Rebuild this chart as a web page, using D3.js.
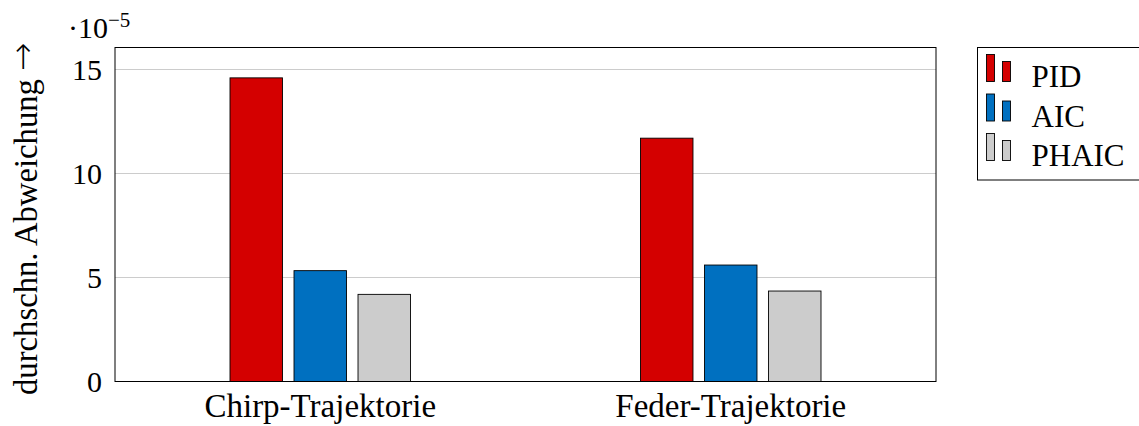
<!DOCTYPE html>
<html>
<head>
<meta charset="utf-8">
<script src="https://cdn.jsdelivr.net/npm/d3@7"></script>
<style>
  body { margin: 0; background: #fff; }
  text { font-family: "Liberation Serif", "DejaVu Serif", serif; fill: #000; }
</style>
</head>
<body>
<div id="chart"></div>
<script>
// data (values in units of 1e-5)
const categories = ["Chirp-Trajektorie", "Feder-Trajektorie"];
const seriesNames = ["PID", "AIC", "PHAIC"];
const seriesColors = ["#d40000", "#0070c0", "#cccccc"];
const pidValues = [14.6, 11.7];
const aicValues = [5.33, 5.6];
const phaicValues = [4.19, 4.35];
const yTicks = [0, 5, 10, 15];

const seriesValues = [pidValues, aicValues, phaicValues];

const W = 1139, H = 426;
const margin = {top: 47.5, right: 203, bottom: 44.5, left: 115};
const width = W - margin.left - margin.right,
      height = H - margin.top - margin.bottom;

const svg = d3.select("#chart").append("svg")
    .attr("width", W).attr("height", H);

const g = svg.append("g")
    .attr("transform", "translate(" + margin.left + "," + margin.top + ")");

// scales
const x0 = d3.scalePoint().domain(categories).range([0, width]).padding(0.5);
const x1 = d3.scaleBand().domain(seriesNames).range([-90.25, 90.25]).paddingInner(0.18);
const y = d3.scaleLinear().domain([0, 16.06]).range([height, 0]);

// grid lines
g.selectAll(".grid")
    .data(yTicks.filter(d => d > 0))
    .enter().append("line")
    .attr("x1", 0).attr("x2", width)
    .attr("y1", d => y(d)).attr("y2", d => y(d))
    .attr("stroke", "#cccccc").attr("stroke-width", 1)
    .attr("shape-rendering", "crispEdges");

// bars
categories.forEach(function(cat, ci) {
    g.selectAll(".bar-" + ci)
        .data(seriesNames)
        .enter().append("rect")
        .attr("x", s => x0(cat) + x1(s))
        .attr("y", (s, si) => y(seriesValues[si][ci]))
        .attr("width", x1.bandwidth())
        .attr("height", (s, si) => height - y(seriesValues[si][ci]))
        .attr("fill", (s, si) => seriesColors[si])
        .attr("stroke", "#000")
        .attr("stroke-width", 0.9);
});

// frame
g.append("rect")
    .attr("x", 0).attr("y", 0).attr("width", width).attr("height", height)
    .attr("fill", "none").attr("stroke", "#000").attr("stroke-width", 1);

// y tick labels
g.selectAll(".ytick")
    .data(yTicks)
    .enter().append("text")
    .attr("x", -13).attr("y", d => y(d))
    .attr("dy", "0.34em")
    .attr("text-anchor", "end")
    .style("font-size", "30px")
    .text(d => d);

// exponent label
const expo = svg.append("text")
    .attr("x", 68).attr("y", 38)
    .style("font-size", "30px");
expo.append("tspan").text("\u00b710");
expo.append("tspan").attr("dy", -11).style("font-size", "21px").text("\u22125");

// x labels
g.selectAll(".xlabel")
    .data(categories)
    .enter().append("text")
    .attr("x", d => x0(d)).attr("y", height + 35)
    .attr("text-anchor", "middle")
    .style("font-size", "33px")
    .text(d => d);

// y axis title
const ytitle = svg.append("text")
    .attr("transform", "translate(37,395) rotate(-90)")
    .attr("text-anchor", "start")
    .style("font-size", "32.7px");
ytitle.append("tspan").text("durchschn. Abweichung ");
ytitle.append("tspan").attr("dx", 0).attr("dy", -3)
    .style("font-family", "'DejaVu Sans'")
    .style("font-weight", 200)
    .style("font-size", "34px").text("\u2192");

// legend
const lg = svg.append("g").attr("transform", "translate(977.5,47.5)");
lg.append("rect")
    .attr("x", 0).attr("y", 0).attr("width", 165).attr("height", 132.5)
    .attr("fill", "#fff").attr("stroke", "#000").attr("stroke-width", 1);

const items = lg.selectAll(".item")
    .data(seriesNames)
    .enter().append("g")
    .attr("transform", (d, i) => "translate(0," + (i * 39.5) + ")");

items.append("rect")
    .attr("x", 9).attr("y", 7).attr("width", 8).attr("height", 27)
    .attr("fill", (d, i) => seriesColors[i])
    .attr("stroke", "#000").attr("stroke-width", 0.9);
items.append("rect")
    .attr("x", 25).attr("y", 14).attr("width", 8).attr("height", 20)
    .attr("fill", (d, i) => seriesColors[i])
    .attr("stroke", "#000").attr("stroke-width", 0.9);
items.append("text")
    .attr("x", 54).attr("y", 39.5)
    .style("font-size", "31px")
    .text(d => d);
</script>
</body>
</html>
